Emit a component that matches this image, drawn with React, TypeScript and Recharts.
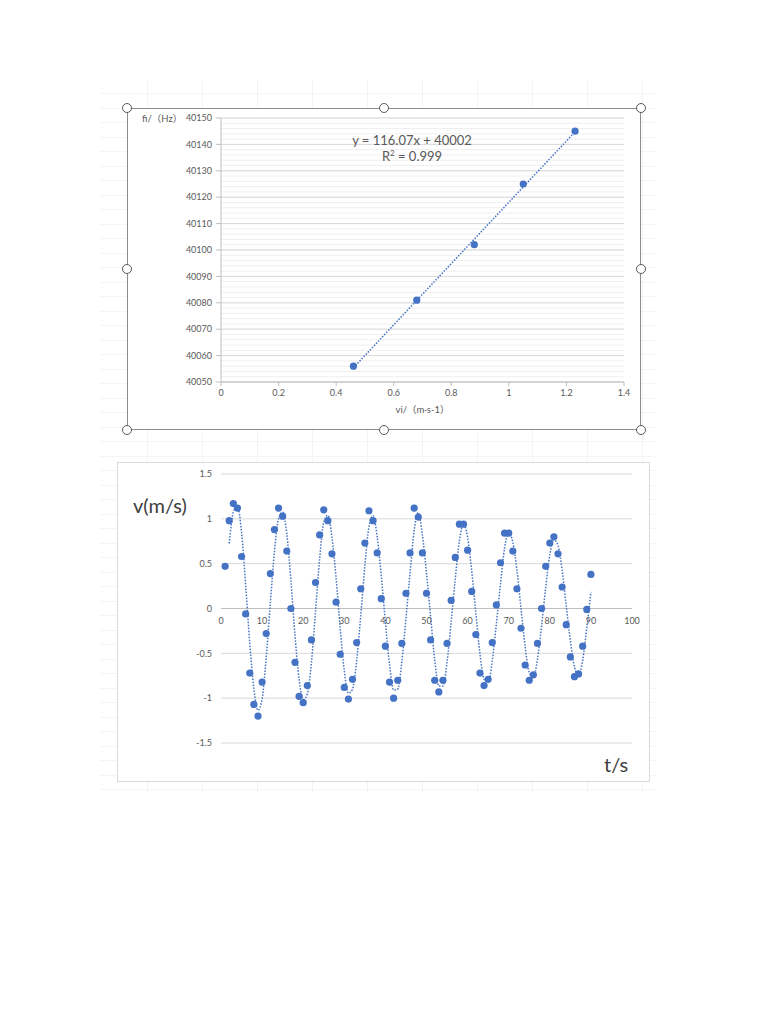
import React from 'react';
import {
  ComposedChart,
  Scatter,
  Line,
  XAxis,
  YAxis,
  CartesianGrid,
  ReferenceLine,
  ReferenceDot,
} from 'recharts';

// top chart: received frequency vs. source speed
const vi = [0.46, 0.68, 0.88, 1.05, 1.23];
const fi = [40056, 40081, 40102, 40125, 40145];
const fitSlope = 116.07;
const fitIntercept = 40002;
const fitR2 = 0.999;
const viTicks = [0, 0.2, 0.4, 0.6, 0.8, 1, 1.2, 1.4];
const fiTicks = [40050, 40060, 40070, 40080, 40090, 40100, 40110, 40120, 40130, 40140, 40150];

// bottom chart: velocity vs. time, one sample per second
const tSec = [
  1, 2, 3, 4, 5, 6, 7, 8, 9, 10, 11, 12, 13, 14, 15, 16, 17, 18, 19, 20,
  21, 22, 23, 24, 25, 26, 27, 28, 29, 30, 31, 32, 33, 34, 35, 36, 37, 38, 39, 40,
  41, 42, 43, 44, 45, 46, 47, 48, 49, 50, 51, 52, 53, 54, 55, 56, 57, 58, 59, 60,
  61, 62, 63, 64, 65, 66, 67, 68, 69, 70, 71, 72, 73, 74, 75, 76, 77, 78, 79, 80,
  81, 82, 83, 84, 85, 86, 87, 88, 89, 90,
];
const vel = [
  0.47, 0.98, 1.17, 1.12, 0.58, -0.06, -0.72, -1.07, -1.2, -0.82,
  -0.28, 0.39, 0.88, 1.12, 1.03, 0.64, 0.0, -0.6, -0.98, -1.05,
  -0.86, -0.35, 0.29, 0.82, 1.1, 0.98, 0.61, 0.07, -0.51, -0.88,
  -1.01, -0.79, -0.38, 0.22, 0.73, 1.09, 0.98, 0.62, 0.11, -0.42,
  -0.82, -1.0, -0.8, -0.39, 0.17, 0.62, 1.12, 1.02, 0.62, 0.17,
  -0.35, -0.8, -0.93, -0.8, -0.39, 0.09, 0.57, 0.94, 0.94, 0.65,
  0.19, -0.29, -0.72, -0.86, -0.79, -0.38, 0.04, 0.51, 0.84, 0.84,
  0.64, 0.22, -0.22, -0.63, -0.8, -0.74, -0.39, 0.0, 0.47, 0.73,
  0.8, 0.61, 0.24, -0.18, -0.54, -0.76, -0.73, -0.42, -0.01, 0.38,
];
const tTicks = [0, 10, 20, 30, 40, 50, 60, 70, 80, 90, 100];
const vTicks = [-1.5, -1, -0.5, 0, 0.5, 1, 1.5];

const BLUE = '#4472C4';
const GREY_TEXT = '#595959';

const fPoints = vi.map((x, i) => ({ x, y: fi[i] }));
const fitLine = [vi[0], vi[vi.length - 1]].map((x) => ({ x, y: fitSlope * x + fitIntercept }));
const fMinor: number[] = [];
for (let v = fiTicks[0]; v <= fiTicks[fiTicks.length - 1]; v += 2) fMinor.push(v);

const vPoints = tSec.map((x, i) => ({ x, y: vel[i] }));
// 2-period moving average trendline
const vAvg = tSec.slice(1).map((x, i) => ({ x, y: (vel[i] + vel[i + 1]) / 2 }));

const dot = (p: any) => <circle cx={p.cx} cy={p.cy} r={3.6} fill={BLUE} />;

const handles: [number, number][] = [
  [127, 108], [384, 108], [641, 108],
  [127, 269], [641, 269],
  [127, 430], [384, 430], [641, 430],
];

function FreqChart() {
  return (
    <div style={{ position: 'absolute', left: 127, top: 108, width: 514, height: 322, background: '#fff' }}>
      <ComposedChart width={514} height={322} margin={{ top: 10, right: 17, left: 0, bottom: 0 }}>
        <CartesianGrid vertical={false} horizontalValues={fMinor} stroke="#efefef" />
        <CartesianGrid vertical={false} horizontalValues={fiTicks} stroke="#d9d9d9" />
        <XAxis
          type="number"
          dataKey="x"
          domain={[0, 1.4]}
          ticks={viTicks}
          interval={0}
          height={48}
          tickSize={4}
          tickMargin={4}
          stroke="#bfbfbf"
          tick={{ fill: GREY_TEXT, fontSize: 9 }}
          label={{ value: 'vi/（m·s-1）', position: 'insideBottom', offset: 17, fill: GREY_TEXT, fontSize: 9.5 }}
        />
        <YAxis
          type="number"
          dataKey="y"
          domain={[40050, 40150]}
          ticks={fiTicks}
          interval={0}
          width={94}
          tickSize={5}
          tickMargin={4}
          stroke="#bfbfbf"
          tick={{ fill: GREY_TEXT, fontSize: 9 }}
        />
        <Line
          data={fitLine}
          dataKey="y"
          type="linear"
          stroke={BLUE}
          strokeWidth={1.5}
          strokeDasharray="1.5 1.5"
          dot={false}
          isAnimationActive={false}
        />
        <Scatter data={fPoints} shape={dot} isAnimationActive={false} />
      </ComposedChart>
    </div>
  );
}

function VelocityChart() {
  return (
    <div style={{ position: 'absolute', left: 117, top: 462, width: 533, height: 320, background: '#fff', border: '1px solid #d9d9d9', boxSizing: 'border-box' }}>
      <ComposedChart width={531} height={318} margin={{ top: 11, right: 17, left: 0, bottom: 0 }}>
        <CartesianGrid stroke="#d9d9d9" verticalValues={tTicks} horizontalValues={vTicks} />
        <XAxis
          type="number"
          dataKey="x"
          domain={[0, 100]}
          ticks={tTicks}
          interval={0}
          height={38}
          axisLine={false}
          tickLine={false}
          tick={false}
        />
        <YAxis
          type="number"
          dataKey="y"
          domain={[-1.5, 1.5]}
          ticks={vTicks}
          interval={0}
          width={103}
          axisLine={false}
          tickLine={false}
          tickSize={0}
          tickMargin={9}
          tick={{ fill: GREY_TEXT, fontSize: 9 }}
        />
        <ReferenceLine y={0} stroke="#bfbfbf" strokeWidth={1} />
        {tTicks.map((t) => (
          <ReferenceDot
            key={t}
            x={t}
            y={0}
            r={0}
            fill="none"
            stroke="none"
            label={{ value: String(t), position: 'bottom', offset: 9, fill: GREY_TEXT, fontSize: 9 }}
          />
        ))}
        <Line
          data={vAvg}
          dataKey="y"
          type="monotone"
          stroke={BLUE}
          strokeWidth={1.5}
          strokeDasharray="1.5 1.5"
          dot={false}
          isAnimationActive={false}
        />
        <Scatter data={vPoints} shape={dot} isAnimationActive={false} />
      </ComposedChart>
    </div>
  );
}

export default function App() {
  return (
    <div
      style={{
        position: 'absolute',
        left: 0,
        top: 0,
        width: 768,
        height: 1024,
        background: '#fff',
        fontFamily: 'Lato, "Noto Sans CJK SC", sans-serif',
      }}
    >
      {/* faint spreadsheet cells behind the charts */}
      <div
        style={{
          position: 'absolute',
          left: 100,
          top: 80,
          width: 556,
          height: 712,
          backgroundImage:
            'repeating-linear-gradient(to right, transparent 0 47px, #f3f3f3 47px 48px, transparent 48px 55px), repeating-linear-gradient(to bottom, transparent 0 13px, #f5f5f5 13px 14px, transparent 14px 14.5px)',
        }}
      />
      <FreqChart />
      <div style={{ position: 'absolute', left: 127, top: 108, width: 514, height: 322, border: '1.5px solid #8c8c8c', boxSizing: 'border-box', pointerEvents: 'none' }} />
      {handles.map(([x, y]) => (
        <div
          key={`${x}-${y}`}
          style={{ position: 'absolute', left: x - 5, top: y - 5, width: 10, height: 10, borderRadius: '50%', border: '1.5px solid #595959', background: '#fff', boxSizing: 'border-box' }}
        />
      ))}
      <div style={{ position: 'absolute', left: 142, top: 111, fontSize: 9.5, color: GREY_TEXT, whiteSpace: 'nowrap' }}>fi/（Hz）</div>
      <div style={{ position: 'absolute', left: 312, top: 132, width: 200, textAlign: 'center', fontSize: 13, lineHeight: '16px', color: GREY_TEXT }}>
        <div>{`y = ${fitSlope}x + ${fitIntercept}`}</div>
        <div>
          R<sup style={{ fontSize: 8, lineHeight: 0 }}>2</sup>{` = ${fitR2}`}
        </div>
      </div>

      <VelocityChart />
      <div style={{ position: 'absolute', left: 133, top: 493, fontSize: 20, lineHeight: '24px', color: '#404040', whiteSpace: 'nowrap' }}>v(m/s)</div>
      <div style={{ position: 'absolute', left: 604, top: 752, fontSize: 20, lineHeight: '24px', color: '#404040', whiteSpace: 'nowrap' }}>t/s</div>
    </div>
  );
}
